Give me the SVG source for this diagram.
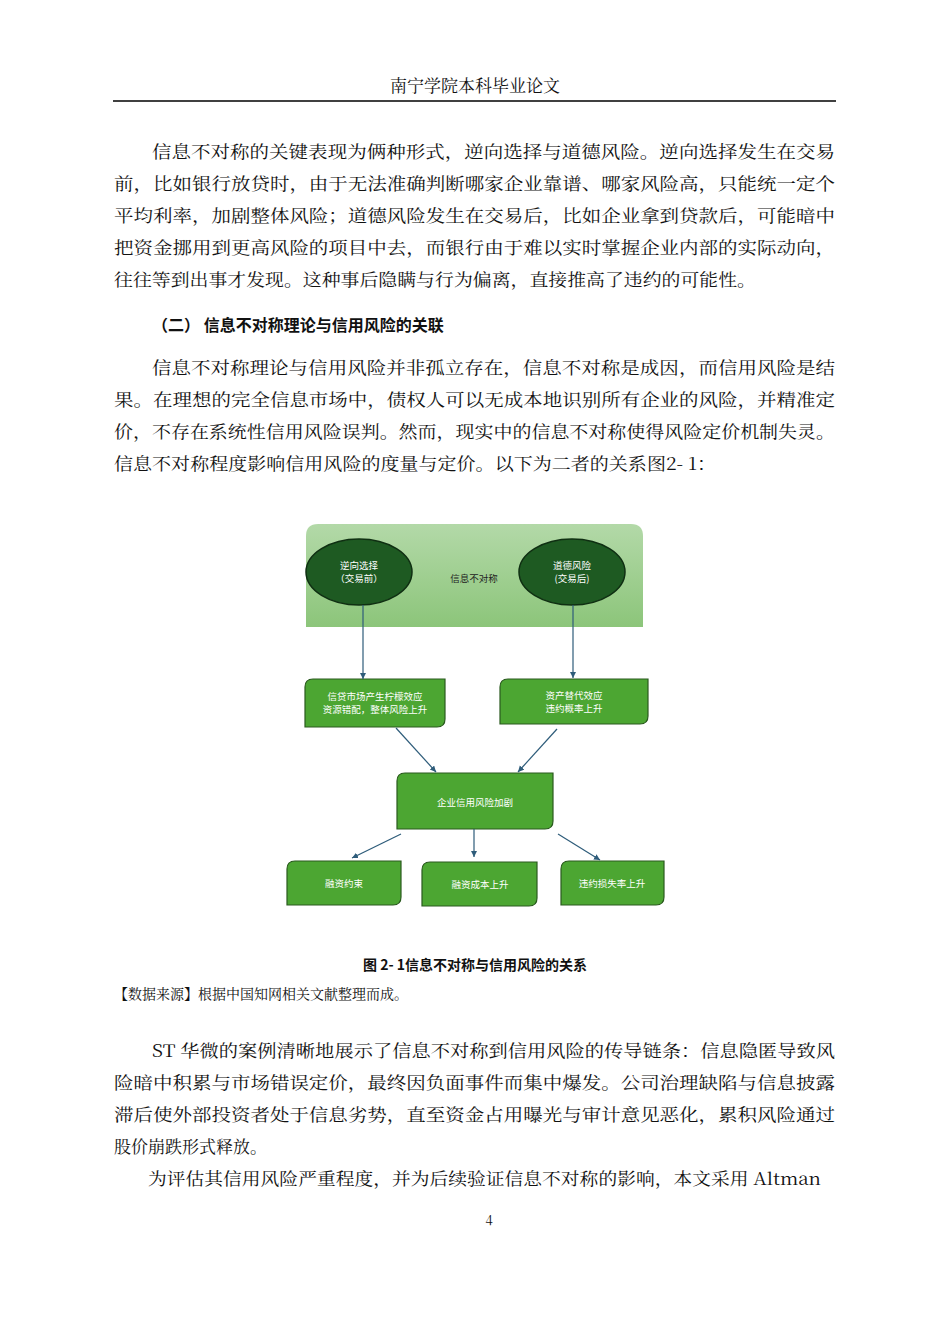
<svg xmlns="http://www.w3.org/2000/svg" width="950" height="1344" viewBox="0 0 950 1344">
<style>
.t{font-family:"Noto Serif CJK SC","Noto Sans CJK SC","Liberation Serif",serif;font-size:17px;fill:#111}
.h{font-family:"Noto Sans CJK SC",sans-serif;font-weight:bold;font-size:16px;fill:#111}
.d{font-family:"Noto Sans CJK SC",sans-serif;font-size:9.5px;fill:#fff;text-anchor:middle}
.box{fill:#4ca632;stroke:#2a5a1e;stroke-width:1.2}
.cn{stroke:#2e5c7a;stroke-width:1.2;fill:none;marker-end:url(#a)}
</style>
<defs>
<marker id="a" markerWidth="8" markerHeight="8" refX="6" refY="3" orient="auto" markerUnits="userSpaceOnUse"><path d="M0,0L6,3L0,6z" fill="#2e5c7a"/></marker>
<linearGradient id="g" x1="0" y1="0" x2="0" y2="1"><stop offset="0" stop-color="#b3d9a8"/><stop offset="1" stop-color="#8cc57a"/></linearGradient>
</defs>
<rect width="950" height="1344" fill="#fff"/>
<text x="475" y="92" class="t" text-anchor="middle">南宁学院本科毕业论文</text>
<line x1="113" y1="101" x2="836" y2="101" stroke="#000" stroke-width="1.5"/>
<text x="152" y="158" class="t" textLength="683" lengthAdjust="spacingAndGlyphs">信息不对称的关键表现为俩种形式，逆向选择与道德风险。逆向选择发生在交易</text>
<text x="114" y="190" class="t" textLength="721" lengthAdjust="spacingAndGlyphs">前，比如银行放贷时，由于无法准确判断哪家企业靠谱、哪家风险高，只能统一定个</text>
<text x="114" y="222" class="t" textLength="721" lengthAdjust="spacingAndGlyphs">平均利率，加剧整体风险；道德风险发生在交易后，比如企业拿到贷款后，可能暗中</text>
<text x="114" y="254" class="t" textLength="721" lengthAdjust="spacingAndGlyphs">把资金挪用到更高风险的项目中去，而银行由于难以实时掌握企业内部的实际动向，</text>
<text x="114" y="286" class="t" textLength="642" lengthAdjust="spacingAndGlyphs">往往等到出事才发现。这种事后隐瞒与行为偏离，直接推高了违约的可能性。</text>
<text x="152" y="331" class="h">（二）  信息不对称理论与信用风险的关联</text>
<text x="152" y="374" class="t" textLength="683" lengthAdjust="spacingAndGlyphs">信息不对称理论与信用风险并非孤立存在，信息不对称是成因，而信用风险是结</text>
<text x="114" y="406" class="t" textLength="721" lengthAdjust="spacingAndGlyphs">果。在理想的完全信息市场中，债权人可以无成本地识别所有企业的风险，并精准定</text>
<text x="114" y="438" class="t" textLength="721" lengthAdjust="spacingAndGlyphs">价，不存在系统性信用风险误判。然而，现实中的信息不对称使得风险定价机制失灵。</text>
<text x="114" y="470" class="t" textLength="602" lengthAdjust="spacingAndGlyphs">信息不对称程度影响信用风险的度量与定价。以下为二者的关系图2- 1：</text>
<g id="top"><path d="M318,524H631Q643,524 643,536V627H306V536Q306,524 318,524Z" fill="url(#g)"/>
<text x="474" y="582" class="d" style="fill:#222">信息不对称</text></g>
<g id="n1"><ellipse cx="359" cy="572" rx="53" ry="33" fill="#1e5a22" stroke="#0f2f12" stroke-width="1.5"/><text x="359" y="569" class="d">逆向选择</text><text x="359" y="582" class="d">（交易前）</text></g>
<g id="n2"><ellipse cx="572" cy="572" rx="53" ry="33" fill="#1e5a22" stroke="#0f2f12" stroke-width="1.5"/><text x="572" y="569" class="d">道德风险</text><text x="572" y="582" class="d">(交易后)</text></g>
<g id="b1"><path d="M313,679H445V719Q445,727 437,727H305V687Q305,679 313,679Z" class="box"/><text x="375" y="700" class="d">信贷市场产生柠檬效应</text><text x="375" y="713" class="d">资源错配，整体风险上升</text></g>
<g id="b2"><path d="M508,679H648V716Q648,724 640,724H500V687Q500,679 508,679Z" class="box"/><text x="574" y="699" class="d">资产替代效应</text><text x="574" y="712" class="d">违约概率上升</text></g>
<g id="c"><path d="M405,773H553V821Q553,829 545,829H397V781Q397,773 405,773Z" class="box"/><text x="475" y="806" class="d">企业信用风险加剧</text></g>
<g id="e1"><path d="M295,861H401V897Q401,905 393,905H287V869Q287,861 295,861Z" class="box"/><text x="344" y="887" class="d">融资约束</text></g>
<g id="e2"><path d="M430,862H537V898Q537,906 529,906H422V870Q422,862 430,862Z" class="box"/><text x="480" y="888" class="d">融资成本上升</text></g>
<g id="e3"><path d="M569,861H664V897Q664,905 656,905H561V869Q561,861 569,861Z" class="box"/><text x="612" y="887" class="d">违约损失率上升</text></g>
<g id="connectors">
<path class="cn" d="M363,605V679"/><path class="cn" d="M573,605V678"/>
<path class="cn" d="M396,728L436,772"/><path class="cn" d="M557,729L518,772"/>
<path class="cn" d="M401,834L352,858"/><path class="cn" d="M474,829V857"/><path class="cn" d="M558,834L600,860"/>
</g>
<text x="475" y="970" class="h" style="font-size:14px" text-anchor="middle">图 2- 1信息不对称与信用风险的关系</text>
<text x="114" y="999" class="t" style="font-size:14px">【数据来源】根据中国知网相关文献整理而成。</text>
<text x="152" y="1057" class="t" textLength="683" lengthAdjust="spacingAndGlyphs">ST 华微的案例清晰地展示了信息不对称到信用风险的传导链条：信息隐匿导致风</text>
<text x="114" y="1089" class="t" textLength="721" lengthAdjust="spacingAndGlyphs">险暗中积累与市场错误定价，最终因负面事件而集中爆发。公司治理缺陷与信息披露</text>
<text x="114" y="1121" class="t" textLength="721" lengthAdjust="spacingAndGlyphs">滞后使外部投资者处于信息劣势，直至资金占用曝光与审计意见恶化，累积风险通过</text>
<text x="114" y="1153" class="t">股价崩跌形式释放。</text>
<text x="148" y="1185" class="t" textLength="673" lengthAdjust="spacingAndGlyphs">为评估其信用风险严重程度，并为后续验证信息不对称的影响，本文采用 Altman</text>
<text x="489" y="1225" class="t" style="font-size:13px" text-anchor="middle">4</text>
</svg>
